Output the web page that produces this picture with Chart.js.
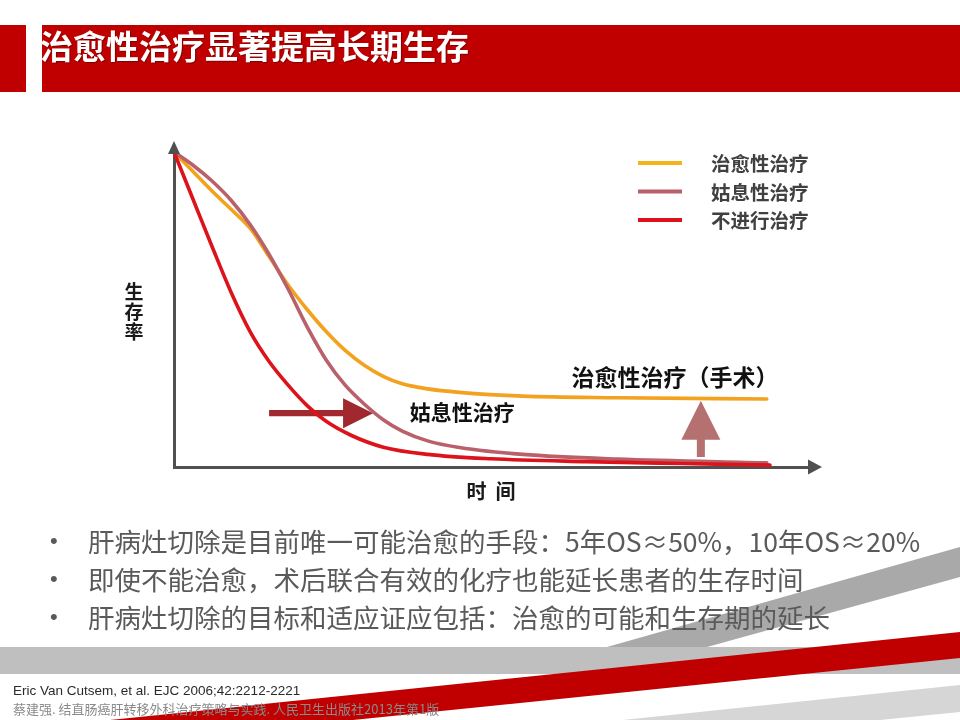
<!DOCTYPE html>
<html><head><meta charset="utf-8">
<script src="https://cdn.jsdelivr.net/npm/chart.js@4.4.1/dist/chart.umd.min.js"></script>
<style>
html,body{margin:0;padding:0;background:#fff;width:960px;height:720px;overflow:hidden;}
#stage{position:relative;width:960px;height:720px;font-family:"Noto Sans CJK SC","Noto Sans",sans-serif;}
#bg{position:absolute;left:0;top:0;z-index:0}
#chartWrap{position:absolute;left:0;top:0;width:960px;height:720px;z-index:1}
.txt{position:absolute;white-space:nowrap;z-index:2}
#titleBox{position:absolute;left:42px;top:25px;width:918px;height:67px;overflow:hidden;z-index:2}
#title{position:absolute;left:-2px;top:0px;font-size:33px;font-weight:700;color:#fff;line-height:40px;text-shadow:1px 1px 1px rgba(0,0,0,0.35);}
.dot{left:50px;font-family:"Liberation Sans",sans-serif;font-size:22px;color:#595959;line-height:38px}
.line{left:88px;font-size:26.5px;color:#5a5a5a;line-height:38px}
.ref1{left:13px;top:683px;font-family:"Liberation Sans",sans-serif;font-size:13.5px;color:#2a2a2a;line-height:16px}
.ref2{left:13px;top:701px;font-size:13px;color:#8a8a8a;line-height:16px}
</style></head><body>
<div id="stage">
<svg id="bg" width="960" height="720">
 <rect x="0" y="25" width="26" height="67" fill="#c00000"/>
 <rect x="42" y="25" width="918" height="67" fill="#c00000"/>
 <rect x="0" y="647" width="960" height="27" fill="#bfbfbf"/>
 <polygon points="607,647 960,547 960,577 707,647" fill="#a9a9a9"/>
 <polygon points="623,720 960,685 960,712 880,720" fill="#d6d6d6"/>
 <polygon points="110,720 960,632 960,658 353,720" fill="#c00000"/>
</svg>
<div id="chartWrap"><canvas id="c" width="960" height="720"></canvas></div>
<div id="titleBox"><div id="title">治愈性治疗显著提高长期生存</div></div>
<div class="txt dot" style="top:522px">•</div><div class="txt line" style="top:522px">肝病灶切除是目前唯一可能治愈的手段：5年OS≈50%，10年OS≈20%</div>
<div class="txt dot" style="top:560px">•</div><div class="txt line" style="top:560px">即使不能治愈，术后联合有效的化疗也能延长患者的生存时间</div>
<div class="txt dot" style="top:598px">•</div><div class="txt line" style="top:598px">肝病灶切除的目标和适应证应包括：治愈的可能和生存期的延长</div>
<div class="txt ref1">Eric Van Cutsem, et al. EJC 2006;42:2212-2221</div>
<div class="txt ref2">蔡建强. 结直肠癌肝转移外科治疗策略与实践. 人民卫生出版社2013年第1版</div>
</div>
<script>
// ---- data (x = time, y = survival) ----
const seriesNames = ['治愈性治疗', '姑息性治疗', '不进行治疗'];
const curativeTime = [0, 3, 6, 9, 12, 15, 18, 21, 24, 27, 30, 33, 36, 40, 45, 55, 70, 93.5];
const curativeSurv = [100, 93.8, 87.6, 81.8, 75.8, 66.8, 57.8, 50.0, 43.0, 37.0, 32.3, 28.8, 26.4, 24.8, 23.7, 22.5, 22.0, 21.6];
const palliativeTime = [0, 3, 6, 9, 12, 15, 18, 21, 24, 27, 30, 33, 36, 40, 45, 55, 70, 93.5];
const palliativeSurv = [100, 95.8, 90.8, 84.7, 77.0, 67.5, 56.5, 44.5, 34.0, 26.0, 20.0, 15.0, 11.4, 8.3, 6.2, 4.0, 2.5, 1.3];
const noTreatTime = [0, 3, 6, 9, 12, 15, 18, 21, 24, 28, 33, 40, 50, 65, 80, 94];
const noTreatSurv = [100, 85.0, 70.0, 55.5, 43.0, 33.5, 26.0, 19.5, 14.5, 10.0, 6.3, 4.0, 2.6, 1.7, 1.1, 0.6];
const axisTitles = ['时  间', '生存率'];
const annotationTexts = ['姑息性治疗', '治愈性治疗（手术）'];

function pts(xs, ys){ return xs.map((v,i)=>({x:v, y:ys[i]})); }

const colors = ['#f2a21e', '#b9606a', '#dc131b'];
const legendColors = ['#f3b41c', '#b9606a', '#dc131b'];

const decor = {
  id: 'decor',
  beforeDatasetsDraw(chart, args, o){
    const {ctx, scales:{x, y}} = chart;
    ctx.save();
    const hy = y.getPixelForValue(o.hArrow.y);
    const hx0 = x.getPixelForValue(o.hArrow.x0), hx1 = x.getPixelForValue(o.hArrow.x1);
    const headLen = 30, headHalf = 15, shaftHalf = 3.2;
    ctx.fillStyle = '#a0282e';
    ctx.beginPath();
    ctx.moveTo(hx0, hy - shaftHalf);
    ctx.lineTo(hx1 - headLen, hy - shaftHalf);
    ctx.lineTo(hx1 - headLen, hy - headHalf);
    ctx.lineTo(hx1, hy);
    ctx.lineTo(hx1 - headLen, hy + headHalf);
    ctx.lineTo(hx1 - headLen, hy + shaftHalf);
    ctx.lineTo(hx0, hy + shaftHalf);
    ctx.closePath(); ctx.fill();
    const vx = x.getPixelForValue(o.vArrow.x);
    const vy0 = y.getPixelForValue(o.vArrow.y0), vy1 = y.getPixelForValue(o.vArrow.y1);
    const vHead = 39, vHalf = 19.5, vShaft = 4;
    ctx.fillStyle = '#b4716f';
    ctx.beginPath();
    ctx.moveTo(vx - vShaft, vy0);
    ctx.lineTo(vx - vShaft, vy1 + vHead);
    ctx.lineTo(vx - vHalf, vy1 + vHead);
    ctx.lineTo(vx, vy1);
    ctx.lineTo(vx + vHalf, vy1 + vHead);
    ctx.lineTo(vx + vShaft, vy1 + vHead);
    ctx.lineTo(vx + vShaft, vy0);
    ctx.closePath(); ctx.fill();
    ctx.restore();
  },
  afterDraw(chart, args, o){
    const {ctx, chartArea:a, scales:{x, y}} = chart;
    ctx.save();
    ctx.fillStyle = '#505050'; ctx.strokeStyle = '#505050'; ctx.lineWidth = 3;
    ctx.beginPath(); ctx.moveTo(a.left, a.top + 1); ctx.lineTo(a.left, a.top - 4); ctx.stroke();
    ctx.beginPath(); ctx.moveTo(a.left, a.top - 11); ctx.lineTo(a.left - 6, a.top + 2); ctx.lineTo(a.left + 6, a.top + 2); ctx.closePath(); ctx.fill();
    ctx.beginPath(); ctx.moveTo(a.right + 14, a.bottom); ctx.lineTo(a.right, a.bottom - 7.5); ctx.lineTo(a.right, a.bottom + 7.5); ctx.closePath(); ctx.fill();
    ctx.fillStyle = '#1a1a1a';
    ctx.textBaseline = 'middle';
    ctx.font = 'bold 20px "Noto Sans CJK SC"';
    ctx.textAlign = 'center';
    ctx.fillText(axisTitles[0], (a.left + a.right) / 2, a.bottom + 24);
    ctx.font = 'bold 19px "Noto Sans CJK SC"';
    const yt = axisTitles[1];
    for (let i = 0; i < yt.length; i++) ctx.fillText(yt[i], a.left - 40, 292 + i * 20);
    ctx.textAlign = 'left';
    ctx.fillStyle = '#111';
    o.labels.forEach((l, i) => {
      ctx.font = 'bold ' + l.size + 'px "Noto Sans CJK SC"';
      ctx.fillText(annotationTexts[i], x.getPixelForValue(l.x), y.getPixelForValue(l.y));
    });
    const lg = o.legend;
    chart.data.datasets.forEach((ds, i) => {
      const yy = lg.top + i * lg.step;
      ctx.strokeStyle = legendColors[i]; ctx.lineWidth = 4; ctx.lineCap = 'butt';
      ctx.beginPath(); ctx.moveTo(lg.left, yy); ctx.lineTo(lg.left + 44, yy); ctx.stroke();
      ctx.fillStyle = '#404040';
      ctx.font = 'bold 19.5px "Noto Sans CJK SC"';
      ctx.fillText(ds.label, lg.left + 73, yy + 1);
    });
    ctx.restore();
  }
};

const mkDs = (i, xs, ys, order) => ({
  label: seriesNames[i], data: pts(xs, ys), borderColor: colors[i], borderWidth: 3.6,
  pointRadius: 0, cubicInterpolationMode: 'monotone', fill: false, clip: 10, order: order,
  borderCapStyle: 'round', borderJoinStyle: 'round'
});

new Chart(document.getElementById('c'), {
  type: 'line',
  data: { datasets: [
    mkDs(0, curativeTime, curativeSurv, 2),
    mkDs(1, palliativeTime, palliativeSurv, 1),
    mkDs(2, noTreatTime, noTreatSurv, 0)
  ]},
  options: {
    responsive: false, animation: false, devicePixelRatio: 1,
    layout: { padding: { left: 174, right: 152, top: 152, bottom: 253 } },
    scales: {
      x: { type: 'linear', min: 0, max: 100, ticks: { display: false }, grid: { display: false, drawTicks: false },
           border: { display: true, color: '#505050', width: 3 }, afterFit: s => { s.height = 0; } },
      y: { type: 'linear', min: 0, max: 100, ticks: { display: false }, grid: { display: false, drawTicks: false },
           border: { display: true, color: '#505050', width: 3 }, afterFit: s => { s.width = 0; } }
    },
    plugins: {
      legend: { display: false }, tooltip: { enabled: false },
      decor: {
        hArrow: { x0: 15.0, x1: 31.4, y: 17.1 },
        vArrow: { x: 83.1, y0: 3.2, y1: 21.0 },
        labels: [ { x: 37.2, y: 17.5, size: 21 }, { x: 62.7, y: 28.4, size: 23 } ],
        legend: { left: 638, top: 163, step: 28.5 }
      }
    }
  },
  plugins: [decor]
});
</script>
</body></html>
